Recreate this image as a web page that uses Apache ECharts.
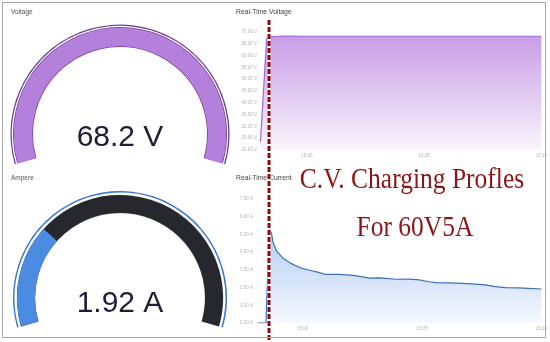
<!DOCTYPE html>
<html>
<head>
<meta charset="utf-8">
<script src="https://cdn.jsdelivr.net/npm/echarts@6/dist/echarts.min.js"></script>
<style>
html,body{margin:0;padding:0;background:#fff;}
#c{width:550px;height:342px;}
</style>
</head>
<body>
<div id="c"></div>
<script>
// ---- data ----
const gaugeTitles = ['Voltage', 'Ampere'];
const gaugeValues = [68.2, 1.92];
const gaugeMax = [70, 7];
const gaugeUnits = ['V', 'A'];

const chartTitles = ['Real-Time Voltage', 'Real-Time Current'];
// time in minutes relative to 15:00
const voltageTimes  = [-1.98, -1.72, -1.52, -1.04, 0, 5, 10];
const voltageValues = [23.4, 67.1, 68.0, 68.3, 68.2, 68.2, 68.2];

const currentTimes  = [-1.88, -1.54, -1.40, -1.30, -1.24, -1.10, -0.82, -0.47, -0.13, 0.29, 0.71, 0.92, 0.99, 1.54, 2.10, 2.51, 2.79, 3.21, 3.63, 3.90, 4.46, 4.88, 5.29, 5.57, 6.13, 6.68, 7.24, 7.65, 8.07, 8.49, 9.04, 9.46, 10.0];
const currentValues = [0, 0, 5.38, 5.01, 4.54, 4.07, 3.65, 3.35, 3.13, 2.98, 2.84, 2.75, 2.79, 2.75, 2.69, 2.60, 2.53, 2.55, 2.50, 2.47, 2.48, 2.43, 2.33, 2.28, 2.26, 2.24, 2.20, 2.15, 2.05, 2.00, 1.98, 1.96, 1.92];

const timeTicks = [0, 5, 10];
const overlayLines = ['C.V. Charging Profles', 'For 60V5A'];

// ---- chart ----
const chart = echarts.init(document.getElementById('c'), null, {renderer: 'canvas'});

const timeFmt = v => '15:' + String(Math.round(v)).padStart(2, '0');

function ringSeries(center, radius, width, color, max) {
  return {
    type: 'gauge', center: center, radius: radius, startAngle: 196, endAngle: -16,
    min: 0, max: max, silent: true,
    axisLine: {lineStyle: {width: width, color: [[1, color]]}},
    splitLine: {show: false}, axisTick: {show: false}, axisLabel: {show: false},
    pointer: {show: false}, anchor: {show: false}, title: {show: false}, detail: {show: false},
    progress: {show: false},
    data: [{value: 0}]
  };
}

function mainGauge(i, center, radius, width, bg, fg, offY) {
  return {
    type: 'gauge', center: center, radius: radius, startAngle: 196, endAngle: -16,
    min: 0, max: gaugeMax[i], silent: true,
    axisLine: {lineStyle: {width: width, color: [[1, bg]]}},
    progress: {show: true, width: width, roundCap: false, itemStyle: {color: fg}},
    splitLine: {show: false}, axisTick: {show: false}, axisLabel: {show: false},
    pointer: {show: false}, anchor: {show: false}, title: {show: false},
    detail: {
      show: true, offsetCenter: [0, offY], valueAnimation: false,
      formatter: v => v + ' ' + gaugeUnits[i],
      fontSize: 30, fontWeight: 'normal', fontFamily: 'Liberation Sans', color: '#1c1e3a'
    },
    data: [{value: gaugeValues[i]}]
  };
}

const axisLabelStyle = {color: '#b3b3b3', fontSize: 4.5, fontFamily: 'Liberation Sans'};

const option = {
  animation: false,
  backgroundColor: '#ffffff',
  grid: [
    {left: 260, right: 4, top: 32, bottom: 192},
    {left: 255, right: 7, top: 199, bottom: 19}
  ],
  xAxis: [0, 1].map(g => ({
    type: 'value', gridIndex: g, min: -2, max: 10,
    axisLine: {show: false}, axisTick: {show: false, customValues: timeTicks},
    splitLine: {show: false},
    axisLabel: Object.assign({customValues: timeTicks, formatter: timeFmt, margin: 3}, axisLabelStyle)
  })),
  yAxis: [
    {type: 'value', gridIndex: 0, min: 20, max: 70, interval: 5,
     axisLine: {show: false}, axisTick: {show: false}, splitLine: {show: false},
     axisLabel: Object.assign({formatter: v => v.toFixed(2) + ' V', margin: 3}, axisLabelStyle)},
    {type: 'value', gridIndex: 1, min: 0, max: 7, interval: 1,
     axisLine: {show: false}, axisTick: {show: false}, splitLine: {show: false},
     axisLabel: Object.assign({formatter: v => v.toFixed(2) + ' A', margin: 2}, axisLabelStyle)}
  ],
  series: [
    // Voltage gauge
    ringSeries([120, 134], 109.5, 1.3, '#6e4292', gaugeMax[0]),
    ringSeries([120, 134], 107, 20, '#7b4c9f', gaugeMax[0]),
    mainGauge(0, [120, 134], 106, 18, '#b580dc', '#b580dc', 4),
    // Ampere gauge
    ringSeries([120, 298], 107, 1.5, '#3b77d6', gaugeMax[1]),
    ringSeries([120, 298], 103.5, 19, '#d8dde6', gaugeMax[1]),
    mainGauge(1, [120, 298], 103, 18, '#26282d', '#4b8ce2', 6),
    // Real-time voltage
    {
      type: 'line', xAxisIndex: 0, yAxisIndex: 0, symbol: 'none', silent: true,
      data: voltageTimes.map((t, k) => [t, voltageValues[k]]),
      lineStyle: {color: '#9f6ad2', width: 1.2},
      areaStyle: {
        origin: 'start', opacity: 1,
        color: new echarts.graphic.LinearGradient(0, 0, 0, 1, [
          {offset: 0, color: 'rgb(200,156,230)'},
          {offset: 0.5, color: 'rgb(225,202,241)'},
          {offset: 1, color: 'rgb(249,245,252)'}
        ])
      }
    },
    // Real-time current
    {
      type: 'line', xAxisIndex: 1, yAxisIndex: 1, symbol: 'none', silent: true,
      data: currentTimes.map((t, k) => [t, currentValues[k]]),
      lineStyle: {color: '#3e70b8', width: 1.2},
      areaStyle: {
        origin: 'start', opacity: 1,
        color: new echarts.graphic.LinearGradient(0, 0, 0, 1, [
          {offset: 0, color: 'rgb(176,203,243)'},
          {offset: 1, color: 'rgb(246,249,255)'}
        ])
      }
    }
  ],
  graphic: [
    {type: 'rect', z: 100, silent: true, shape: {x: 2.5, y: 2.5, width: 543, height: 335},
     style: {fill: 'none', stroke: '#a8a8a8', lineWidth: 1}},
    {type: 'text', x: 11, y: 12.5, silent: true, style: {text: gaugeTitles[0], font: '6.5px "Liberation Sans"', fill: '#555', verticalAlign: 'middle'}},
    {type: 'text', x: 11, y: 178.5, silent: true, style: {text: gaugeTitles[1], font: '6.5px "Liberation Sans"', fill: '#555', verticalAlign: 'middle'}},
    {type: 'text', x: 236, y: 12.5, silent: true, style: {text: chartTitles[0], font: '6.8px "Liberation Sans"', fill: '#444', verticalAlign: 'middle'}},
    {type: 'text', x: 236, y: 178.5, silent: true, style: {text: chartTitles[1], font: '6.8px "Liberation Sans"', fill: '#444', verticalAlign: 'middle'}},
    {type: 'line', z: 90, silent: true, shape: {x1: 269, y1: 20, x2: 269, y2: 342},
     style: {stroke: '#ffffff', lineWidth: 3}},
    {type: 'line', z: 91, silent: true, shape: {x1: 269, y1: 20, x2: 269, y2: 342},
     style: {stroke: '#8a0c0c', lineWidth: 3, lineDash: [5, 2]}},
    {type: 'text', z: 95, x: 412, y: 180, scaleX: 0.85, silent: true,
     style: {text: overlayLines[0], font: '30px "Liberation Serif"', fill: '#8c1515', align: 'center', verticalAlign: 'middle'}},
    {type: 'text', z: 95, x: 415, y: 228, scaleX: 0.85, silent: true,
     style: {text: overlayLines[1], font: '30px "Liberation Serif"', fill: '#8c1515', align: 'center', verticalAlign: 'middle'}}
  ]
};
chart.setOption(option);
</script>
</body>
</html>
